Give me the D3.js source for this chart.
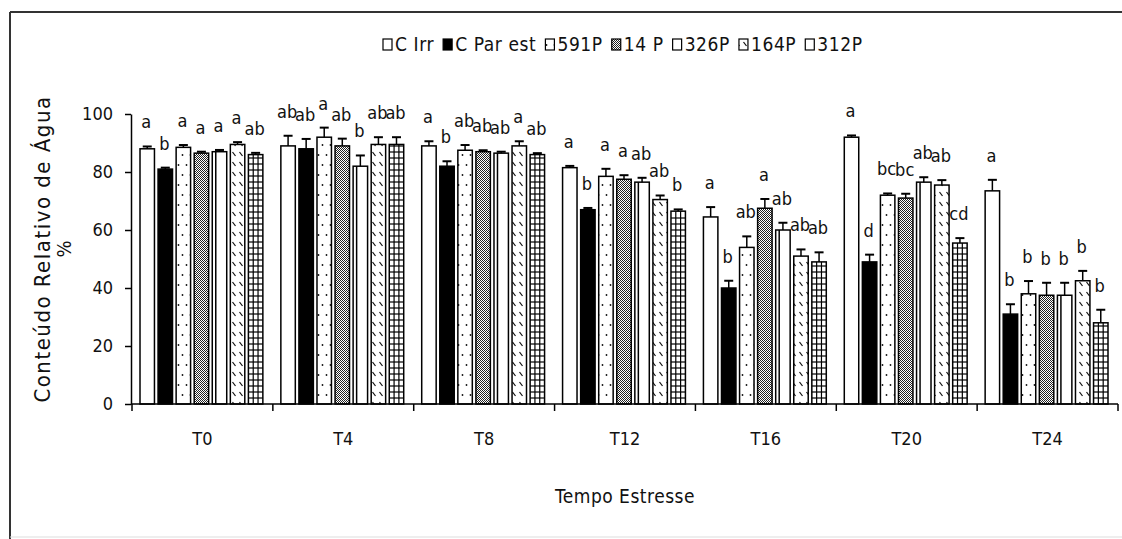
<!DOCTYPE html>
<html>
<head>
<meta charset="utf-8">
<script src="https://cdn.jsdelivr.net/npm/d3@7"></script>
<style>
  body { margin: 0; background: #fff; }
  svg { display: block; }
  text { font-family: "Liberation Sans Narrow", "Arial Narrow", "DejaVu Sans Condensed", "Liberation Sans", Arial, sans-serif; fill: #111; }
</style>
</head>
<body>
<svg id="chart" width="1122" height="539"></svg>
<script>
// Stress-time groups and treatments
const groups = ["T0", "T4", "T8", "T12", "T16", "T20", "T24"];
const series = ["C Irr", "C Par est", "591P", "14 P", "326P", "164P", "312P"];
const yTicks = [0, 20, 40, 60, 80, 100];

// Mean relative water content (%) per treatment, one value per group
const cIrr    = [88,   89,   89,   81.5, 64.5, 92,   73.5];
const cParEst = [81,   88,   82,   67,   40,   49,   31];
const p591    = [88.5, 92,   87.5, 78.5, 54,   72,   38];
const p14     = [86.5, 89,   87,   77.5, 67.5, 71,   37.5];
const p326    = [87,   82,   86.5, 76.5, 60,   76.5, 37.5];
const p164    = [89.5, 89.5, 89,   70.5, 51,   75.5, 42.5];
const p312    = [86,   89.5, 86,   66.5, 49,   55.5, 28];

// Standard errors
const eIrr    = [0.8, 3.5, 1.6, 0.6, 3.4, 0.6, 3.8];
const eParEst = [0.5, 3.4, 1.7, 0.6, 2.5, 2.5, 3.4];
const e591    = [0.8, 3.3, 1.8, 2.6, 3.8, 0.6, 4.4];
const e14     = [0.5, 2.5, 0.5, 1.4, 3.2, 1.5, 4.3];
const e326    = [0.6, 3.7, 0.5, 1.5, 2.5, 1.7, 4.3];
const e164    = [0.8, 2.5, 1.6, 1.4, 2.3, 1.7, 3.4];
const e312    = [0.6, 2.5, 0.5, 0.6, 3.3, 1.7, 4.5];

// Mean-separation letters
const lIrr    = ["a", "ab", "a", "a", "a", "a", "a"];
const lParEst = ["b", "ab", "b", "b", "b", "d", "b"];
const l591    = ["a", "a", "ab", "a", "ab", "bc", "b"];
const l14     = ["a", "ab", "ab", "a", "a", "bc", "b"];
const l326    = ["a", "b", "ab", "ab", "ab", "ab", "b"];
const l164    = ["a", "ab", "a", "ab", "ab", "ab", "b"];
const l312    = ["ab", "ab", "ab", "b", "ab", "cd", "b"];

const means   = [cIrr, cParEst, p591, p14, p326, p164, p312];
const errors  = [eIrr, eParEst, e591, e14, e326, e164, e312];
const letters = [lIrr, lParEst, l591, l14, l326, l164, l312];

// Fill style per treatment
const fills = ["open", "solid", "dots", "stipple", "lined", "dashes", "grid"];

const svg = d3.select("#chart");

// frame around the figure
svg.append("line").attr("x1", 10).attr("x2", 1122).attr("y1", 12).attr("y2", 12)
  .attr("stroke", "#333").attr("stroke-width", 2);
svg.append("line").attr("x1", 10).attr("x2", 10).attr("y1", 12).attr("y2", 539)
  .attr("stroke", "#333").attr("stroke-width", 2);
svg.append("line").attr("x1", 10).attr("x2", 1122).attr("y1", 537).attr("y2", 537)
  .attr("stroke", "#ddd").attr("stroke-width", 1);

// patterns
const defs = svg.append("defs");
const pDots = defs.append("pattern").attr("id", "pat-dots").attr("patternUnits", "userSpaceOnUse")
  .attr("width", 8).attr("height", 20);
pDots.append("rect").attr("width", 8).attr("height", 20).attr("fill", "#fff");
pDots.append("circle").attr("cx", 2.5).attr("cy", 5).attr("r", 0.9).attr("fill", "#111");
pDots.append("circle").attr("cx", 6.5).attr("cy", 15).attr("r", 0.9).attr("fill", "#111");

const pSt = defs.append("pattern").attr("id", "pat-stipple").attr("patternUnits", "userSpaceOnUse")
  .attr("width", 2).attr("height", 2);
pSt.append("rect").attr("width", 2).attr("height", 2).attr("fill", "#fff");
pSt.append("rect").attr("width", 1).attr("height", 1).attr("fill", "#222");
pSt.append("rect").attr("x", 1).attr("y", 1).attr("width", 1).attr("height", 1).attr("fill", "#222");

const pDa = defs.append("pattern").attr("id", "pat-dashes").attr("patternUnits", "userSpaceOnUse")
  .attr("width", 7).attr("height", 10);
pDa.append("rect").attr("width", 7).attr("height", 10).attr("fill", "#fff");
pDa.append("line").attr("x1", 1.5).attr("y1", 2).attr("x2", 4.5).attr("y2", 6)
  .attr("stroke", "#111").attr("stroke-width", 1.2);

function fillOf(kind) {
  if (kind === "solid") return "#000";
  if (kind === "dots") return "url(#pat-dots)";
  if (kind === "stipple") return "url(#pat-stipple)";
  if (kind === "dashes") return "url(#pat-dashes)";
  return "#fff";
}

// scales
const x0 = d3.scaleBand().domain(groups).range([132, 1118]).paddingInner(0).paddingOuter(0);
const x1 = d3.scaleBand().domain(series).range([8, x0.bandwidth() - 10]).paddingInner(0.2).paddingOuter(0);
const y = d3.scaleLinear().domain([0, 100]).range([404, 114]);

// y axis
const yAxis = svg.append("g").attr("transform", "translate(131,0)")
  .call(d3.axisLeft(y).tickValues(yTicks).tickSize(6).tickPadding(12).tickSizeOuter(0));
yAxis.select(".domain").attr("stroke", "#000").attr("stroke-width", 1.5);
yAxis.selectAll(".tick line").attr("stroke", "#000").attr("stroke-width", 1.5);
yAxis.selectAll(".tick text").attr("font-size", 18).attr("fill", "#111").attr("font-family", null);

// bars
const barData = [];
series.forEach((s, si) => {
  groups.forEach((g, gi) => {
    barData.push({ s, si, g, v: means[si][gi], e: errors[si][gi], lab: letters[si][gi], kind: fills[si] });
  });
});

const bars = svg.append("g");
const bw = x1.bandwidth();
barData.forEach(d => {
  const bx = x0(d.g) + x1(d.s);
  const top = y(d.v);
  const g = bars.append("g");
  g.append("rect").attr("x", bx).attr("y", top).attr("width", bw).attr("height", y(0) - top)
    .attr("fill", fillOf(d.kind)).attr("stroke", "#000").attr("stroke-width", 1.5);
  if (d.kind === "lined") {
    g.append("line").attr("x1", bx + 3.5).attr("x2", bx + 3.5).attr("y1", top).attr("y2", y(0))
      .attr("stroke", "#000").attr("stroke-width", 1.5);
  }
  if (d.kind === "grid") {
    [bw / 3, 2 * bw / 3].forEach(dx => {
      g.append("line").attr("x1", bx + dx).attr("x2", bx + dx).attr("y1", top).attr("y2", y(0))
        .attr("stroke", "#000").attr("stroke-width", 1.2);
    });
    for (let yy = y(0) - 6; yy > top + 1; yy -= 6) {
      g.append("line").attr("x1", bx).attr("x2", bx + bw).attr("y1", yy).attr("y2", yy)
        .attr("stroke", "#000").attr("stroke-width", 1.2);
    }
  }
  // error bar (upper only)
  const cx = bx + bw / 2;
  const et = y(d.v + d.e);
  g.append("line").attr("x1", cx).attr("x2", cx).attr("y1", top).attr("y2", et)
    .attr("stroke", "#000").attr("stroke-width", 1.5);
  g.append("line").attr("x1", cx - 4.5).attr("x2", cx + 4.5).attr("y1", et).attr("y2", et)
    .attr("stroke", "#000").attr("stroke-width", 2);
  // letter
  g.append("text").attr("x", cx - 1).attr("y", et - 18).attr("text-anchor", "middle")
    .attr("font-size", 18).text(d.lab);
});

// x axis
const xAxisG = svg.append("g");
xAxisG.append("line").attr("x1", 131).attr("x2", x0.range()[1]).attr("y1", y(0)).attr("y2", y(0))
  .attr("stroke", "#000").attr("stroke-width", 1.5);
const bounds = groups.map(g => x0(g)).concat([x0.range()[1]]);
xAxisG.selectAll("line.tk").data(bounds).join("line").attr("class", "tk")
  .attr("x1", d => d).attr("x2", d => d).attr("y1", y(0)).attr("y2", y(0) + 7)
  .attr("stroke", "#000").attr("stroke-width", 1.5);
xAxisG.selectAll("text").data(groups).join("text")
  .attr("x", d => x0(d) + x0.bandwidth() / 2).attr("y", 445)
  .attr("text-anchor", "middle").attr("font-size", 18).text(d => d);

// axis titles
svg.append("text").attr("x", 625).attr("y", 503).attr("text-anchor", "middle")
  .attr("font-size", 19).attr("letter-spacing", 0.5).text("Tempo Estresse");
svg.append("text").attr("transform", "translate(50,249) rotate(-90)").attr("text-anchor", "middle")
  .attr("font-size", 22).attr("letter-spacing", 1.5).text("Conteúdo Relativo de Água");
svg.append("text").attr("transform", "translate(71,249) rotate(-90)").attr("text-anchor", "middle")
  .attr("font-size", 20).text("%");

// legend
const legend = svg.append("g");
let lx = 383;
series.forEach((s, si) => {
  const it = legend.append("g");
  it.append("rect").attr("x", lx).attr("y", 39).attr("width", 9).attr("height", 11)
    .attr("fill", fillOf(fills[si])).attr("stroke", "#000").attr("stroke-width", 1.2);
  const t = it.append("text").attr("x", lx + 12).attr("y", 51).attr("font-size", 19)
    .attr("letter-spacing", 0.6).text(s);
  lx += 12 + t.node().getComputedTextLength() + 9;
});
</script>
</body>
</html>
